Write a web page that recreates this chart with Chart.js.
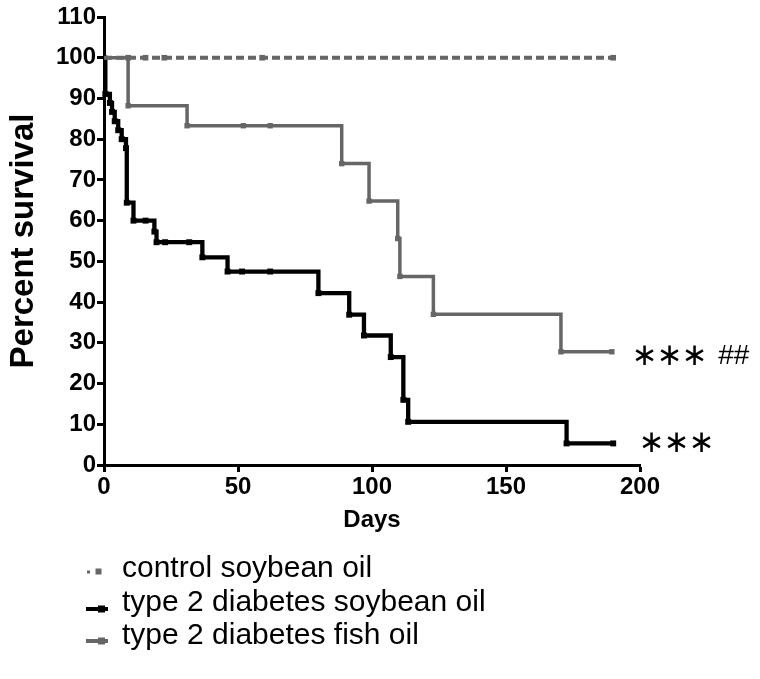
<!DOCTYPE html>
<html><head><meta charset="utf-8">
<script src="https://cdn.jsdelivr.net/npm/chart.js@4.4.1/dist/chart.umd.min.js"></script>
<style>html,body{margin:0;padding:0;background:#fff;} canvas{display:block;}</style>
</head><body>
<canvas id="c" width="760" height="679"></canvas>
<script>
// ---- data ----
const seriesNames = ['control soybean oil', 'type 2 diabetes soybean oil', 'type 2 diabetes fish oil'];
const controlDays     = [0, 9, 15.5, 22.5, 59, 190];
const controlSurvival = [100, 100, 100, 100, 100, 100];
const soyDays     = [0, 0.5, 2.2, 3, 4, 5.3, 6.6, 8.2, 8.5, 11, 15.5, 18.8, 19.6, 22.8, 31.8, 36.7, 46.1, 51.5, 62, 80, 91.5, 97, 107, 111.7, 113.5, 172.6, 190];
const soySurvival = [100, 91.1, 88.9, 86.7, 84.4, 82.2, 80.0, 77.8, 64.4, 60.0, 60.0, 57.3, 54.7, 54.7, 54.7, 51.0, 47.5, 47.5, 47.5, 42.2, 36.9, 31.8, 26.5, 16.0, 10.6, 5.3, 5.3];
const fishDays     = [0, 9, 31, 52, 62, 88.7, 98.9, 109.6, 110.4, 122.9, 170.5, 189.5];
const fishSurvival = [100, 88.2, 83.3, 83.3, 83.3, 74.0, 64.8, 55.6, 46.3, 37.0, 27.8, 27.8];
const xTickStep = 50, xMax = 200;
const yTickStep = 10, yMax = 110;
const significanceStars = ['∗', '∗', '∗'];
const fishMark = '##';
const xTitle = 'Days';
const yTitle = 'Percent survival';

const GRAY = '#666666';
const BLACK = '#000000';
const toPts = (xs, ys) => xs.map((x, i) => ({x, y: ys[i]}));
const radius = (r) => (c) => c.dataIndex === 0 ? 0 : r;

const overlay = {
  id: 'overlay',
  afterDraw(chart) {
    const ctx = chart.ctx;
    ctx.save();
    // significance marks anchored to the last point of each curve
    const fishLast = chart.getDatasetMeta(2).data.slice(-1)[0];
    const soyLast = chart.getDatasetMeta(1).data.slice(-1)[0];
    ctx.fillStyle = BLACK;
    ctx.textAlign = 'center';
    ctx.textBaseline = 'middle';
    ctx.font = '31px "DejaVu Sans"';
    [33, 58, 83].forEach((dx, i) => ctx.fillText(significanceStars[i], fishLast.x + dx, fishLast.y + 5));
    [38.5, 63.5, 88.5].forEach((dx, i) => ctx.fillText(significanceStars[i], soyLast.x + dx, soyLast.y + 1));
    ctx.font = '28px "Liberation Sans"';
    ctx.fillText(fishMark, fishLast.x + 122, fishLast.y + 5);

    // legend
    const left = chart.chartArea.left;
    const rows = [577, 611, 644];
    const symY = [571.5, 609, 641];
    ctx.fillStyle = GRAY;
    ctx.fillRect(left - 17, symY[0] - 1, 3, 3);
    ctx.fillRect(left - 8.5, symY[0] - 3, 6, 6);
    ctx.strokeStyle = BLACK; ctx.lineWidth = 4;
    ctx.beginPath(); ctx.moveTo(left - 18, symY[1]); ctx.lineTo(left + 4, symY[1]); ctx.stroke();
    ctx.fillStyle = BLACK; ctx.fillRect(left - 6, symY[1] - 3.5, 7, 7);
    ctx.strokeStyle = GRAY; ctx.lineWidth = 4;
    ctx.beginPath(); ctx.moveTo(left - 18, symY[2]); ctx.lineTo(left + 4, symY[2]); ctx.stroke();
    ctx.fillStyle = GRAY; ctx.fillRect(left - 6, symY[2] - 3.5, 7, 7);

    ctx.fillStyle = BLACK;
    ctx.textAlign = 'left';
    ctx.textBaseline = 'alphabetic';
    ctx.font = '30px "Liberation Sans", Arial, sans-serif';
    seriesNames.forEach((n, i) => ctx.fillText(n, left + 18, rows[i]));
    ctx.restore();
  }
};

new Chart(document.getElementById('c'), {
  type: 'line',
  data: {
    datasets: [
      { label: seriesNames[0], data: toPts(controlDays, controlSurvival), borderColor: GRAY, backgroundColor: GRAY,
        borderWidth: 4, borderDash: [8, 4], stepped: 'before', pointStyle: 'rect', pointRadius: radius(4), pointBorderWidth: 0, order: 0 },
      { label: seriesNames[1], data: toPts(soyDays, soySurvival), borderColor: BLACK, backgroundColor: BLACK,
        borderWidth: 4.3, stepped: 'before', pointStyle: 'rect', pointRadius: radius(4.2), pointBorderWidth: 0, order: 2 },
      { label: seriesNames[2], data: toPts(fishDays, fishSurvival), borderColor: GRAY, backgroundColor: GRAY,
        borderWidth: 3.5, stepped: 'before', pointStyle: 'rect', pointRadius: radius(3.8), pointBorderWidth: 0, order: 1 }
    ]
  },
  options: {
    responsive: false,
    animation: false,
    clip: false,
    layout: { padding: { left: 0, top: 17, right: 120, bottom: 144 } },
    plugins: { legend: { display: false }, tooltip: { enabled: false } },
    scales: {
      x: {
        type: 'linear', min: 0, max: xMax,
        afterFit: (s) => { s.height = 70; },
        ticks: { stepSize: xTickStep, color: BLACK, padding: 1, font: { family: '"Liberation Sans", Arial, sans-serif', size: 24, weight: 'bold' } },
        grid: { drawOnChartArea: false, drawTicks: true, tickLength: 7, tickWidth: 3, tickColor: BLACK, color: BLACK },
        border: { display: true, color: BLACK, width: 3 },
        title: { display: true, text: xTitle, color: BLACK, padding: { top: 0, bottom: 0 }, font: { family: '"Liberation Sans", Arial, sans-serif', size: 24, weight: 'bold' } }
      },
      y: {
        min: 0, max: yMax,
        afterFit: (s) => { s.width = 104; },
        ticks: { stepSize: yTickStep, color: BLACK, padding: 1, font: { family: '"Liberation Sans", Arial, sans-serif', size: 24, weight: 'bold' } },
        grid: { drawOnChartArea: false, drawTicks: true, tickLength: 7, tickWidth: 3, tickColor: BLACK, color: BLACK },
        border: { display: true, color: BLACK, width: 3 },
        title: { display: true, text: yTitle, color: BLACK, padding: { top: 4, bottom: 0 }, font: { family: '"Liberation Sans", Arial, sans-serif', size: 33, weight: 'bold' } }
      }
    }
  },
  plugins: [overlay]
});
</script>
</body></html>
